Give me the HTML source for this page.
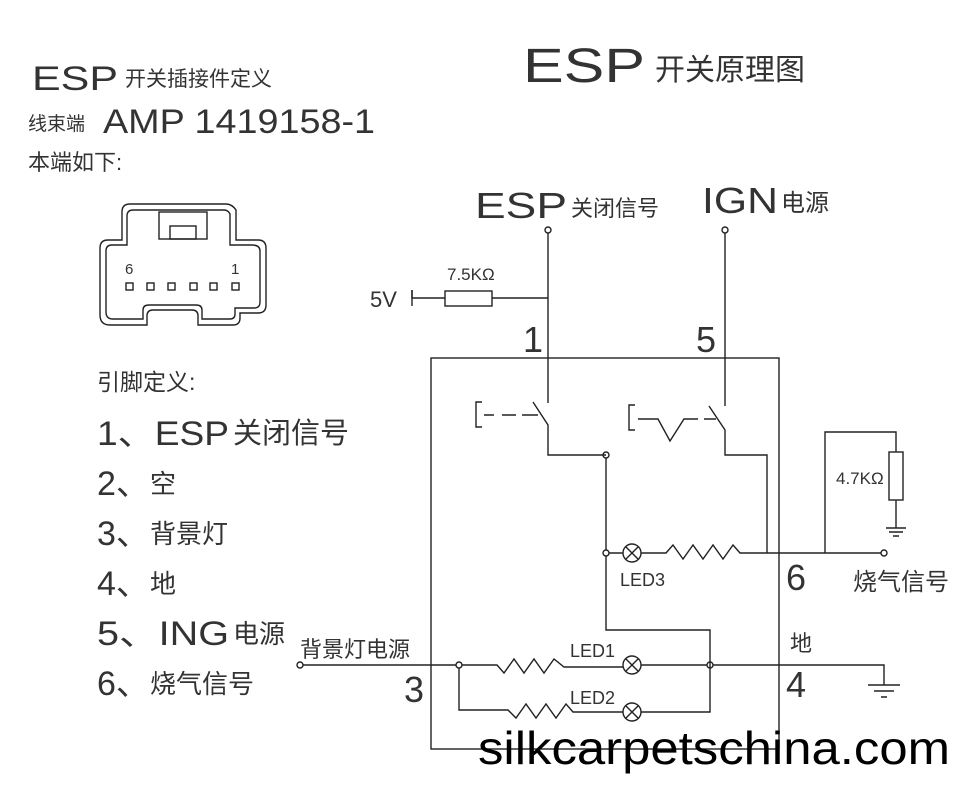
<!DOCTYPE html>
<html><head><meta charset="utf-8"><style>
html,body{margin:0;padding:0;background:#fff;width:954px;height:792px;overflow:hidden}
svg text{font-family:"Liberation Sans","Noto Sans CJK SC",sans-serif;fill:#333}
</style></head><body>
<svg width="954" height="792" viewBox="0 0 954 792" xmlns="http://www.w3.org/2000/svg">
<g fill="none" stroke="#222" stroke-width="1.4">
<path d="M100 305 V248 Q100 240 108 240 H122 V212 Q122 204 130 204 H226 Q232 204 236 210 V240 H258 Q266 240 266 248 V305 Q266 313 258 313 H240 V318 Q240 325 233 325 H198 V316 Q198 310 192 310 H153 Q147 310 147 316 V325 H110 Q100 325 100 315 Z"/>
<path d="M106 302 V251 Q106 245 112 245 H127 V216 Q127 210 133 210 H224 Q228 210 230 214 V245 H252 Q260 245 260 251 V302 Q260 308 254 308 H235 V314 Q235 319 230 319 H202 V310 Q202 305 196 305 H149 Q143 305 143 310 V319 H113 Q106 319 106 312 Z"/>
<rect x="159" y="212" width="48" height="27"/><rect x="170" y="226" width="26" height="13"/>
<rect x="126" y="283" width="7" height="7"/><rect x="147" y="283" width="7" height="7"/><rect x="168" y="283" width="7" height="7"/><rect x="190" y="283" width="7" height="7"/><rect x="210" y="283" width="7" height="7"/><rect x="232" y="283" width="7" height="7"/>
<circle cx="548" cy="230" r="3"/><circle cx="725" cy="230" r="3"/>
<path d="M548 233 V403 M533 402 L548 425 V455 H606"/>
<circle cx="606" cy="455" r="3"/>
<path d="M482 402 H476 V427 H482 M484 415 H494 M502 415 H516 M522 415 H538"/>
<path d="M725 233 V406 M709 406 L725 430 V455 H767 V553"/>
<path d="M635 405 H629 V430 H635 M638 419 H658 L670 441 L684 419 H698 M704 419 H716"/>
<path d="M412 298 V290 M412 298 H445 M492 298 H548"/><rect x="445" y="291" width="47" height="15"/>
<path d="M412 290 V306"/>
<rect x="431" y="358" width="348" height="391"/>
<path d="M606 458 V550 M609 553 H623 M641 553 H666 l7 -8 l10 14 l10 -14 l10 14 l10 -14 l10 14 l10 -14 l7 8 H881"/>
<circle cx="606" cy="553" r="3"/><circle cx="632" cy="553" r="9"/><path d="M626 547 l12 12 M638 547 l-12 12"/>
<circle cx="884" cy="553" r="3"/>
<path d="M825 553 V432 H896 V452 M896 500 V528 M886 528 H906 M889 532 H903 M893 536 H899"/><rect x="889" y="452" width="14" height="48"/>
<path d="M606 556 V630 H710 V712 H641 M623 712 H573 l-7 -8 l-10 14 l-10 -14 l-10 14 l-10 -14 l-10 14 l-8 -8 H459 V668"/>
<path d="M303 665 H456 M462 665 H497 l7 8 l10 -14 l10 14 l10 -14 l10 14 l10 -14 l10 8 H623 M641 665 H707 M713 665 H884 V685 M868 685 H900 M874 691 H894 M881 697 H887"/>
<circle cx="300" cy="665" r="3"/><circle cx="459" cy="665" r="3"/><circle cx="710" cy="665" r="3"/>
<circle cx="632" cy="665" r="9"/><path d="M626 659 l12 12 M638 659 l-12 12"/>
<circle cx="632" cy="712" r="9"/><path d="M626 706 l12 12 M638 706 l-12 12"/>
</g>
<g>
<text x="523" y="82" font-size="48" textLength="122" lengthAdjust="spacingAndGlyphs">ESP</text>
<text x="655" y="80" font-size="30">开关原理图</text>
<text x="32" y="90" font-size="34" textLength="86" lengthAdjust="spacingAndGlyphs">ESP</text>
<text x="125" y="86" font-size="21">开关插接件定义</text>
<text x="28" y="130" font-size="19">线束端</text>
<text x="103" y="133" font-size="34" textLength="272" lengthAdjust="spacingAndGlyphs">AMP 1419158-1</text>
<text x="28" y="170" font-size="22">本端如下:</text>
<text x="125" y="274" font-size="15">6</text><text x="231" y="274" font-size="15">1</text>
<text x="97" y="390" font-size="23">引脚定义:</text>
<text x="97" y="445" font-size="34" textLength="132" lengthAdjust="spacingAndGlyphs">1、ESP</text><text x="233" y="443" font-size="29">关闭信号</text>
<text x="97" y="495" font-size="34">2、</text><text x="150" y="493" font-size="26">空</text>
<text x="97" y="545" font-size="34">3、</text><text x="150" y="543" font-size="26">背景灯</text>
<text x="97" y="595" font-size="34">4、</text><text x="150" y="593" font-size="26">地</text>
<text x="97" y="645" font-size="34" textLength="132" lengthAdjust="spacingAndGlyphs">5、ING</text><text x="233" y="643" font-size="26">电源</text>
<text x="97" y="695" font-size="34">6、</text><text x="150" y="693" font-size="26">烧气信号</text>
<text x="475" y="218" font-size="36" textLength="92" lengthAdjust="spacingAndGlyphs">ESP</text><text x="571" y="216" font-size="22">关闭信号</text>
<text x="702" y="213" font-size="36" textLength="76" lengthAdjust="spacingAndGlyphs">IGN</text><text x="781" y="211" font-size="24">电源</text>
<text x="447" y="280" font-size="17">7.5KΩ</text>
<text x="370" y="307" font-size="22">5V</text>
<text x="523" y="352" font-size="36">1</text><text x="696" y="352" font-size="36">5</text>
<text x="836" y="484" font-size="17">4.7KΩ</text>
<text x="620" y="586" font-size="18">LED3</text>
<text x="786" y="590" font-size="36">6</text>
<text x="853" y="590" font-size="24">烧气信号</text>
<text x="300" y="657" font-size="22">背景灯电源</text>
<text x="570" y="657" font-size="18">LED1</text>
<text x="570" y="704" font-size="18">LED2</text>
<text x="790" y="651" font-size="22">地</text>
<text x="786" y="697" font-size="36">4</text>
<text x="404" y="702" font-size="36">3</text>
</g>
<text x="478" y="764" font-size="46" style="fill:#000" textLength="472" lengthAdjust="spacingAndGlyphs">silkcarpetschina.com</text>
</svg>
</body></html>
